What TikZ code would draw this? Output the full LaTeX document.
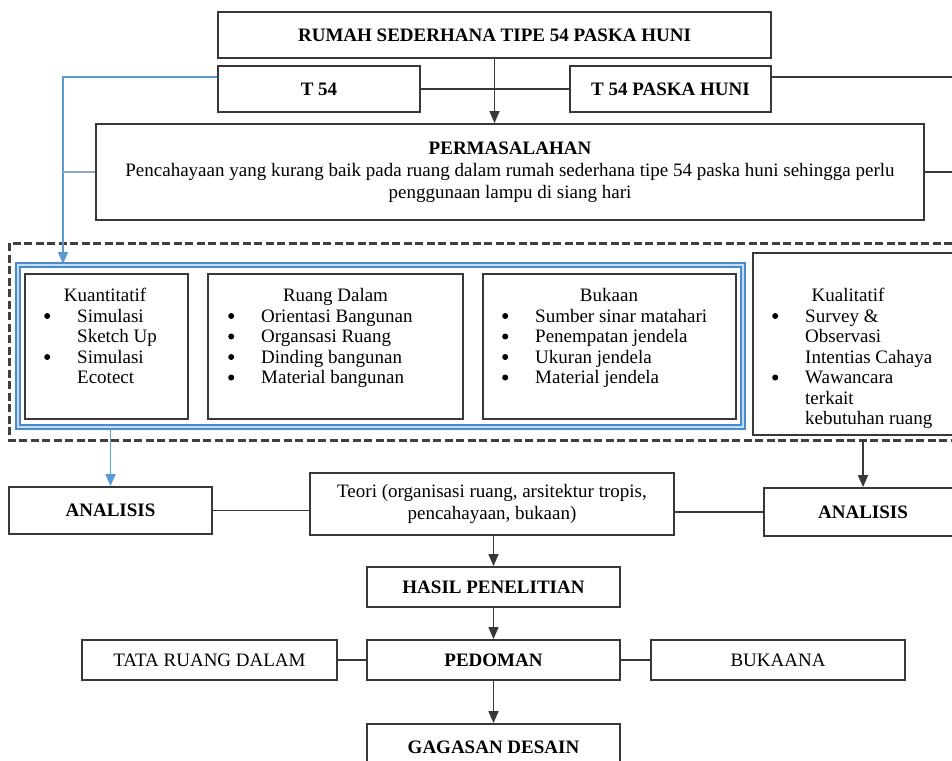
\documentclass[tikz,border=0pt]{standalone}
\usepackage{fontspec}
\setmainfont{Liberation Serif}
\usetikzlibrary{arrows.meta}

\definecolor{linegray}{HTML}{383838}
\definecolor{skyline}{HTML}{5B9BD5}
\definecolor{frameblue}{HTML}{4A8BD0}
\definecolor{slateline}{HTML}{8EA6BE}

\newcommand{\bul}{\tikz[baseline=-6pt]\fill[black] (0,0) circle (3pt);}
\newcommand{\itemrows}[1]{\begin{tabular}[t]{@{}l@{\hspace{27pt}}l@{}}#1\end{tabular}}

\tikzset{
	box/.style={draw=linegray, line width=1.8pt, inner sep=2pt, align=center},
	conn/.style={draw=linegray, line width=1.6pt},
	arr/.style={conn, -{Triangle[length=12pt,width=10pt]}},
	bluearr/.style={draw=skyline, line width=1.6pt, -{Triangle[length=12pt,width=10pt]}},
	slate/.style={draw=slateline, line width=1.6pt},
	frame/.style={draw=frameblue, line width=2pt, double=skyline!35, double distance=1.2pt, inner sep=0pt},
	dashbox/.style={draw=black!75, line width=3pt, dash pattern=on 8pt off 3.5pt},
	listtext/.style={anchor=base west, inner sep=0pt, font=\fontsize{19}{20.5}\selectfont},
	listhead/.style={anchor=base, inner sep=0pt}
}

\begin{document}
\begin{tikzpicture}[x=1pt, y=-1pt, font=\fontsize{19}{22}\selectfont]
	\useasboundingbox (0,0) rectangle (952,760);
	\clip (0,0) rectangle (952,760);

	% upper part
	\node[box, minimum width=553pt, minimum height=46pt] (rumah) at (494.5,35) {\textbf{RUMAH SEDERHANA TIPE 54 PASKA HUNI}};
	\node[box, minimum width=202pt, minimum height=46pt] (t54) at (319,89) {\textbf{T 54}};
	\node[box, minimum width=201pt, minimum height=46pt] (t54p) at (670.5,89) {\textbf{T 54 PASKA HUNI}};
	\node[box, minimum width=828pt, minimum height=96pt] (masalah) at (510,172) {\textbf{PERMASALAHAN}\\ Pencahayaan yang kurang baik pada ruang dalam rumah sederhana tipe 54 paska huni sehingga perlu\\ penggunaan lampu di siang hari};

	% dashed frame and the boxes in it
	\draw[dashbox] (9,243) rectangle (962,440);
	\node[frame, minimum width=725pt, minimum height=162pt] (blok) at (380.5,346) {};

	\node[box, minimum width=163pt, minimum height=145pt] (kuan) at (106.5,346.5) {};
	\node[listhead] (kuanH) at (105,301) {Kuantitatif};
	\node[listtext] (kuanL) at (44,322) {\itemrows{\bul & Simulasi\\ & Sketch Up\\ \bul & Simulasi\\ & Ecotect}};

	\node[box, minimum width=255pt, minimum height=145pt] (ruang) at (335.5,346.5) {};
	\node[listhead] (ruangH) at (335.5,301) {Ruang Dalam};
	\node[listtext] (ruangL) at (228,322) {\itemrows{\bul & Orientasi Bangunan\\ \bul & Organsasi Ruang\\ \bul & Dinding bangunan\\ \bul & Material bangunan}};

	\node[box, minimum width=253pt, minimum height=145pt] (bukaan) at (609.5,346.5) {};
	\node[listhead] (bukaanH) at (609,301) {Bukaan};
	\node[listtext] (bukaanL) at (502,322) {\itemrows{\bul & Sumber sinar matahari\\ \bul & Penempatan jendela\\ \bul & Ukuran jendela\\ \bul & Material jendela}};

	\node[box, minimum width=205pt, minimum height=182pt] (kual) at (855.5,344) {};
	\node[listhead] (kualH) at (848,301) {Kualitatif};
	\node[listtext] (kualL) at (772,322) {\itemrows{\bul & Survey \&\\ & Observasi\\ & Intentias Cahaya\\ \bul & Wawancara\\ & terkait\\ & kebutuhan ruang}};

	% lower part
	\node[box, minimum width=203pt, minimum height=47pt] (anL) at (110.5,510.5) {\textbf{ANALISIS}};
	\node[box, minimum width=364pt, minimum height=62pt] (teori) at (492,504) {Teori (organisasi ruang, arsitektur tropis,\\ pencahayaan, bukaan)};
	\node[box, minimum width=198pt, minimum height=48pt] (anR) at (863,512) {\textbf{ANALISIS}};
	\node[box, minimum width=253pt, minimum height=40pt] (hasil) at (493.5,587) {\textbf{HASIL PENELITIAN}};
	\node[box, minimum width=253pt, minimum height=40pt] (pedoman) at (493.5,660) {\textbf{PEDOMAN}};
	\node[box, minimum width=255pt, minimum height=40pt] (tata) at (209.5,660) {TATA RUANG DALAM};
	\node[box, minimum width=254pt, minimum height=40pt] (bukaana) at (778,660) {BUKAANA};
	\node[box, minimum width=253pt, minimum height=46pt] (gagasan) at (493.5,747) {\textbf{GAGASAN DESAIN}};

	% connectors
	\coordinate (bl) at (63,77);
	\coordinate (rtop) at (962,77);
	\coordinate (rmid) at (962,172);
	\coordinate (dR) at (863,440);

	\draw[arr] (rumah.south) -- (rumah.south |- masalah.north);
	\draw[conn] (t54.east) -- (t54p.west);
	\draw[conn] (rtop -| t54p.east) -- (rtop);
	\draw[conn] (masalah.east) -- (rmid);
	\draw[bluearr] (bl -| t54.west) -- (bl) -- (bl |- blok.north);
	\draw[slate] (masalah.west) -- (masalah.west -| bl);
	\draw[bluearr] (blok.south -| anL.north) -- (anL.north);
	\draw[arr] (dR) -- (dR |- anR.north);
	\draw[conn] (anL.east) -- (anL.east -| teori.west);
	\draw[conn] (anR.west -| teori.east) -- (anR.west);
	\draw[arr] (teori.south -| hasil.north) -- (hasil.north);
	\draw[arr] (hasil) -- (pedoman);
	\draw[conn] (tata) -- (pedoman);
	\draw[conn] (pedoman) -- (bukaana);
	\draw[arr] (pedoman) -- (gagasan);
\end{tikzpicture}
\end{document}
